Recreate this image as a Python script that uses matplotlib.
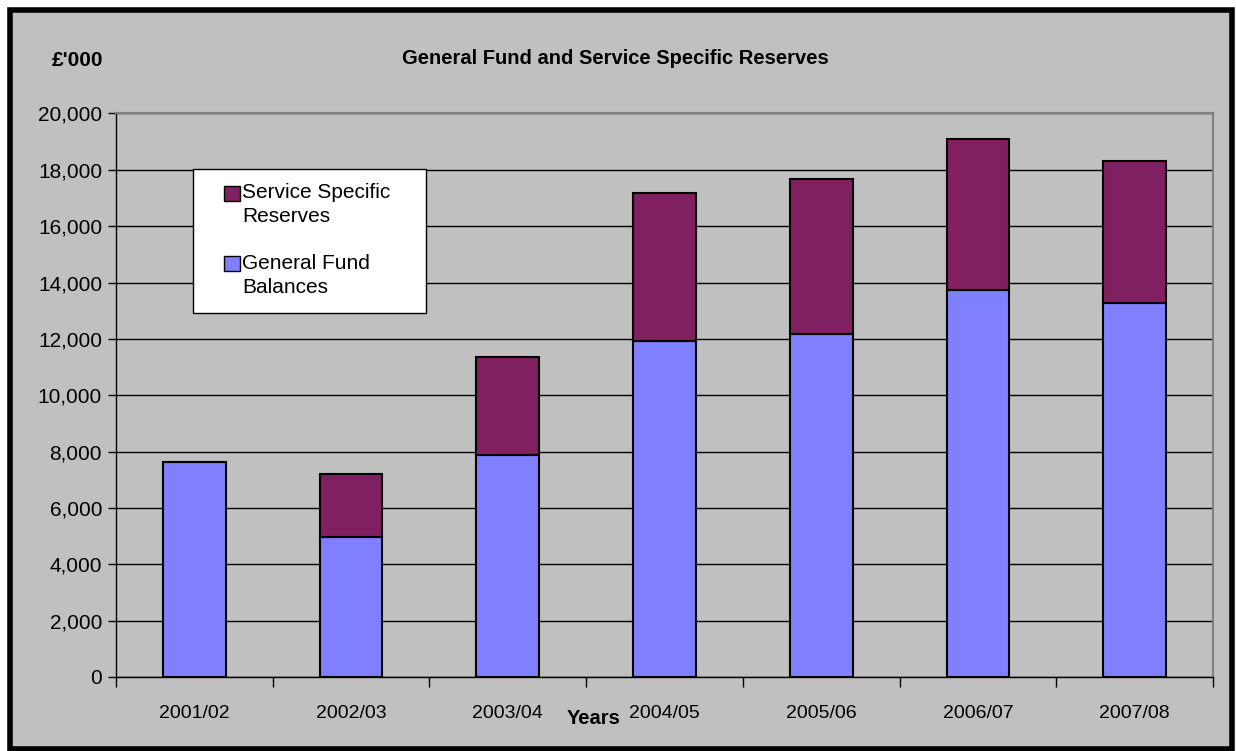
import matplotlib
matplotlib.use("Agg")
import matplotlib.pyplot as plt
from matplotlib.patches import Rectangle
from matplotlib.ticker import FuncFormatter, MultipleLocator, FixedLocator
import numpy as np

years = ["2001/02", "2002/03", "2003/04", "2004/05", "2005/06", "2006/07", "2007/08"]
general_fund = [7620, 4960, 7880, 11910, 12180, 13730, 13260]
service_specific = [0, 2240, 3480, 5280, 5490, 5350, 5050]
legend_labels = [["Service Specific", "Reserves"], ["General Fund", "Balances"]]

plt.rcParams['font.family'] = ['Liberation Sans', 'DejaVu Sans']

BG = "#C0C0C0"
BLUE = "#8080FF"
PURPLE = "#802060"
W, H = 1236, 751

def fx(px):
    return px / W

def fy(py):
    return 1 - py / H

fig = plt.figure(figsize=(12.36, 7.51), dpi=100)
fig.patch.set_facecolor("white")
fig.patches.append(Rectangle((fx(10), fy(749)), fx(1222), 739 / H, transform=fig.transFigure,
                             facecolor=BG, edgecolor="black", linewidth=4, zorder=-10))

ax = fig.add_axes([fx(116), fy(677), (1213 - 116) / W, (677 - 113.5) / H])
ax.set_facecolor(BG)

x = np.arange(len(years))
w = 0.40
ax.bar(x, general_fund, w, color=BLUE, edgecolor="black", linewidth=1.5, zorder=3)
ax.bar(x, service_specific, w, bottom=general_fund, color=PURPLE, edgecolor="black",
       linewidth=1.5, zorder=3)

ax.set_xlim(-0.5, len(years) - 0.5)
ax.set_ylim(0, 20000)
ax.yaxis.set_major_locator(MultipleLocator(2000))
ax.yaxis.set_major_formatter(FuncFormatter(lambda v, p: f"{int(v):,}"))
ax.grid(axis="y", color="black", linewidth=1, zorder=1)
ax.set_axisbelow(True)

ax.set_xticks(x)
ax.set_xticklabels(years, fontsize=14)
ax.xaxis.set_minor_locator(FixedLocator(np.arange(-0.5, len(years), 1.0)))
ax.tick_params(axis="x", which="major", length=0, pad=20)
ax.tick_params(axis="x", which="minor", length=7, width=1, color="black", direction="out")
ax.tick_params(axis="y", length=6, width=1, color="black", labelsize=15, pad=4)

for s in ["top", "right"]:
    ax.spines[s].set_color("#808080")
    ax.spines[s].set_linewidth(1.5)
for s in ["left", "bottom"]:
    ax.spines[s].set_color("black")
    ax.spines[s].set_linewidth(1)

fig.text(fx(615), fy(59), "General Fund and Service Specific Reserves", ha="center",
         va="center", fontsize=14.5, fontweight="bold")
fig.text(fx(78), fy(60), "£'000", ha="center", va="center", fontsize=15, fontweight="bold")
fig.text(fx(594), fy(718), "Years", ha="center", va="center", fontsize=14.5, fontweight="bold")

# legend box
fig.patches.append(Rectangle((fx(193), fy(313)), (426 - 193) / W, (313 - 169) / H,
                             transform=fig.transFigure, facecolor="white", edgecolor="black",
                             linewidth=1, zorder=5))
colors = [PURPLE, BLUE]
marker_tops = [186, 256]
line_ys = [[193, 217], [263, 288]]
for c, mt, lys, labs in zip(colors, marker_tops, line_ys, legend_labels):
    fig.patches.append(Rectangle((fx(224), fy(mt + 15)), 16 / W, 15 / H, transform=fig.transFigure,
                                 facecolor=c, edgecolor="black", linewidth=1, zorder=6))
    for ly, lab in zip(lys, labs):
        fig.text(fx(242), fy(ly), lab, ha="left", va="center", fontsize=15, zorder=7)

fig.savefig("out.png", dpi=100, facecolor=fig.get_facecolor())
